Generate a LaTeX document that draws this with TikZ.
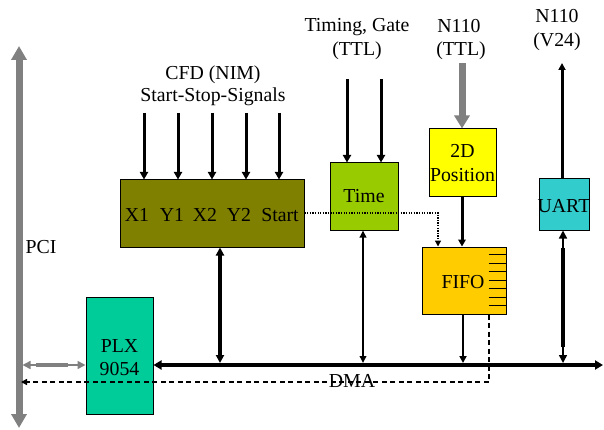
\documentclass[tikz,border=0pt]{standalone}
\usepackage{fontspec}
\setmainfont{Liberation Serif}
\newfontfamily\tnr{Liberation Serif}
\usetikzlibrary{arrows.meta}
\definecolor{cfdc}{HTML}{808000}
\definecolor{timec}{HTML}{99CC00}
\definecolor{posc}{HTML}{FFFF00}
\definecolor{uartc}{HTML}{33CCCC}
\definecolor{fifoc}{HTML}{FFCC00}
\definecolor{plxc}{HTML}{00CC99}
\definecolor{busgray}{HTML}{808080}
\begin{document}
\begin{tikzpicture}[x=1pt,y=-1pt,
  box/.style={draw=black, line width=1pt, inner sep=0pt},
  lbl/.style={font=\tnr\fontsize{19.8}{22}\selectfont, inner sep=0pt, anchor=base},
  sig/.style={line width=3pt, -{Triangle[length=7.5pt,width=8pt]}},
  bidir/.style={line width=#1, {Triangle[length=8pt,width=8pt]}-{Triangle[length=8pt,width=8pt]}},
  thin2way/.style={line width=1.5pt, {Triangle[length=8pt,width=8pt]}-{Triangle[length=8pt,width=8pt]}},
  graybus/.style={busgray, line width=7pt, {Triangle[length=14pt,width=15pt]}-{Triangle[length=14pt,width=15pt]}},
  bigin/.style={busgray, line width=7pt, -{Triangle[length=13pt,width=15pt]}},
  dmaline/.style={line width=1.4pt, dash pattern=on 5pt off 3.5pt, -{Triangle[length=6pt,width=6pt]}},
  dotline/.style={line width=1.3pt, dash pattern=on 1.3pt off 1.3pt, -{Triangle[length=6pt,width=6pt]}}
]
\useasboundingbox (0,0) rectangle (604,430);

% boxes
\node[box, fill=cfdc, minimum width=184pt, minimum height=67pt] (cfd) at (212,213.5) {};
\node[box, fill=timec, minimum width=68pt, minimum height=67pt] (time) at (364,196.5) {};
\node[box, fill=posc, minimum width=67pt, minimum height=68pt] (pos) at (462.5,163) {};
\node[box, fill=uartc, minimum width=50pt, minimum height=51pt] (uart) at (564,204.5) {};
\node[box, fill=fifoc, minimum width=84pt, minimum height=67pt] (fifo) at (464,280.5) {};
\node[box, fill=plxc, minimum width=67pt, minimum height=117pt] (plx) at (119.5,355.5) {};

% box texts
\node[lbl] (x1) at (137,222) {X1};
\node[lbl] (y1) at (172,222) {Y1};
\node[lbl] (x2) at (205,222) {X2};
\node[lbl] (y2) at (239,222) {Y2};
\node[lbl] (start) at (280,222) {Start};
\node[lbl] (timet) at (364,203) {Time};
\node[lbl] (pos1) at (462.5,158) {2D};
\node[lbl] (pos2) at (462.5,182) {Position};
\node[lbl] (uartt) at (564,212) {UART};
\node[lbl] (fifot) at (463,288) {FIFO};
\node[lbl] (plx1) at (119.5,352) {PLX};
\node[lbl] (plx2) at (119.5,375) {9054};

% outside labels
\node[lbl] (cfdl1) at (213,80) {CFD (NIM)};
\node[lbl] (cfdl2) at (213,102) {Start-Stop-Signals};
\node[lbl] (tgl1) at (357,32) {Timing, Gate};
\node[lbl] (tgl2) at (357,56) {(TTL)};
\node[lbl] (nttl1) at (459,33) {N110};
\node[lbl] (nttl2) at (461,56) {(TTL)};
\node[lbl] (nv1) at (557,23) {N110};
\node[lbl] (nv2) at (557,47) {(V24)};
\node[lbl] (pci) at (41,253) {PCI};

% FIFO ticks
\foreach \k in {0,...,6}
  \draw[line width=1pt] ([xshift=-18pt,yshift=-8pt-8.5pt*\k]fifo.north east) -- ++(18,0);

% free-end coordinates
\coordinate (pcitop) at (19,46);
\coordinate (pcibot) at (19,428);
\coordinate (busend) at (603,365);
\foreach \x/\n in {144/a,178/b,212/c,246/d,279/e}
  \coordinate (cin\n) at (\x,113);
\coordinate (tin1) at (347,79);
\coordinate (tin2) at (381,79);
\coordinate (posin) at (462,63);
\coordinate (uartout) at (562,63);
\coordinate (dotbend) at (438,213);
\coordinate (dmabend) at (489,382);
\coordinate (dmaend) at (21,382);

% PCI bus
\draw[graybus] (pcitop) -- (pcibot);
% PCI <-> PLX
\draw[busgray, thin2way] (22.5,365) -- (plx.west |- 0,365);
\draw[busgray, line width=4pt] (36,365) -- (68,365);

% local bus
\draw[line width=4pt, {Triangle[length=8pt,width=9pt]}-{Triangle[length=8pt,width=9pt]}] (plx.east |- busend) -- (busend);

% CFD inputs
\foreach \n/\x in {a/144,b/178,c/212,d/246,e/279}
  \draw[sig] (cin\n) -- (cin\n |- cfd.north);
% Time inputs
\draw[sig] (tin1) -- (tin1 |- time.north);
\draw[sig] (tin2) -- (tin2 |- time.north);
% N110 TTL into position
\draw[bigin] (posin) -- (posin |- pos.north);
% position -> FIFO
\draw[line width=3pt, -{Triangle[length=7pt,width=7.5pt]}] (pos.south -| posin) -- (posin |- fifo.north);
% UART -> N110 V24
\draw[line width=3pt, -{Triangle[length=7pt,width=7pt]}] (uartout |- uart.north) -- (uartout);

% dotted Start -> FIFO
\draw[dotline] (cfd.east |- dotbend) -- (dotbend) -- (dotbend |- fifo.north);

% connections to bus
\draw[bidir=4pt] (220,0 |- cfd.south) -- (220,363);
\draw[line width=2pt, {Triangle[length=7pt,width=6.5pt]}-{Triangle[length=7pt,width=6.5pt]}] (363,0 |- time.south) -- (363,363);
\draw[line width=2.7pt, -{Triangle[length=7pt,width=7pt]}] (463,0 |- fifo.south) -- (463,363);
\draw[thin2way] (563,0 |- uart.south) -- (563,363);
\draw[line width=3.5pt] (563,248) -- (563,347);

% DMA dashed
\draw[dmaline] (dmabend |- fifo.south) -- (dmabend) -- (dmaend);
\node[lbl] (dma) at (352,387) {DMA};

\end{tikzpicture}
\end{document}
